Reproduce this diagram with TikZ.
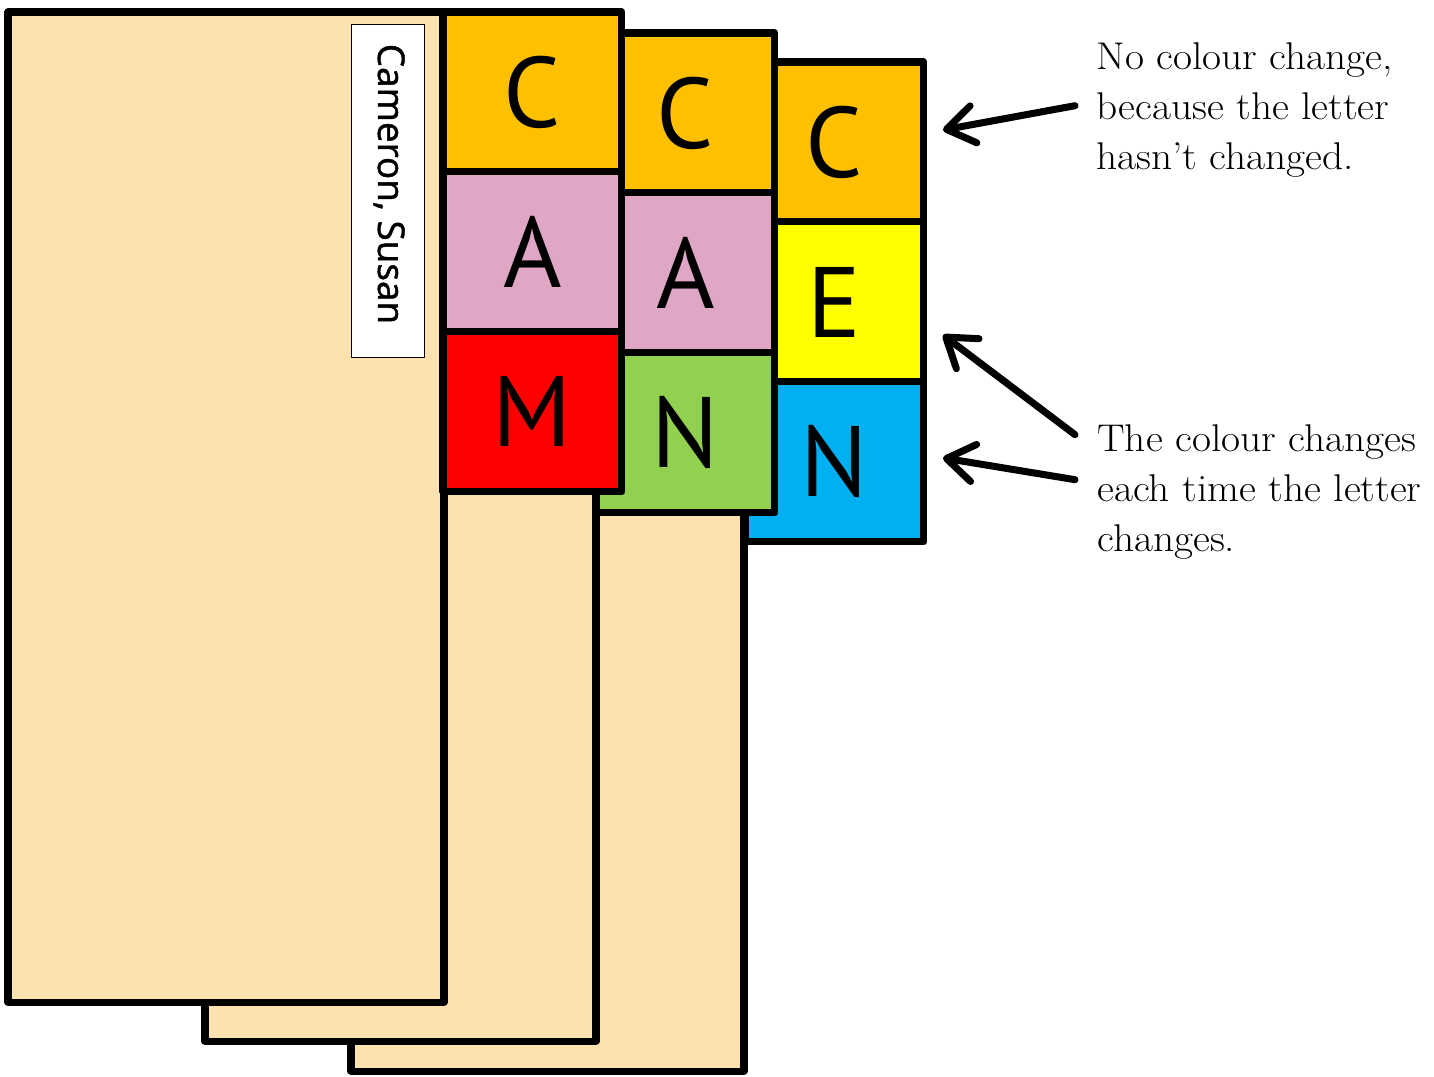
\documentclass[tikz,border=0pt]{standalone}
\usepackage{fontspec}
\usetikzlibrary{arrows.meta,calc,positioning}
\newfontfamily\tabfont{PT Sans}
\newfontfamily\labelfont{Open Sans}[FakeBold=1.2]
\newfontfamily\notefont{Latin Modern Roman}[FakeStretch=1.07]
\definecolor{FolderClr}{RGB}{253,225,175}
\definecolor{OrangeClr}{RGB}{255,192,0}
\definecolor{PinkClr}{RGB}{224,166,198}
\definecolor{RedClr}{RGB}{255,0,0}
\definecolor{GreenClr}{RGB}{146,208,80}
\definecolor{YellowClr}{RGB}{255,255,0}
\definecolor{BlueClr}{RGB}{0,176,240}

\begin{document}
\begin{tikzpicture}[x=0.02cm,y=-0.02cm,line join=round,
  folder/.style={draw=black,fill=FolderClr,line width=4pt},
  tab/.style={draw=black,line width=4pt,outer sep=0pt,inner sep=0pt,
    minimum width=3.58cm,minimum height=3.2cm,
    font=\tabfont\fontsize{57}{60}\selectfont},
  note/.style={anchor=north west,align=left,inner sep=0pt,
    font=\notefont\fontsize{22}{28.45}\selectfont},
  pointer/.style={-{Straight Barb[length=0.55cm,width=0.75cm,round]},
    line width=4pt,line cap=round}]
\useasboundingbox (0,0) rectangle (1434,1076);

\draw[folder] (351,62) rectangle (744,1071);
\node[tab,fill=OrangeClr,anchor=north west] (c3) at (745,62) {C};
\node[tab,fill=YellowClr,below=0pt of c3] (e3) {E};
\node[tab,fill=BlueClr,below=0pt of e3] (n3) {N};

\draw[folder] (205,33) rectangle (596,1041);
\node[tab,fill=OrangeClr,anchor=north west] (c2) at (596,33) {C};
\node[tab,fill=PinkClr,below=0pt of c2] (a2) {A};
\node[tab,fill=GreenClr,below=0pt of a2] (n2) {N};

\draw[folder] (8,12) rectangle (444,1002);
\node[tab,fill=OrangeClr,anchor=north west] (c1) at (443,12) {C};
\node[tab,fill=PinkClr,below=0pt of c1] (a1) {A};
\node[tab,fill=RedClr,below=0pt of a1] (m1) {M};

\node[draw,fill=white,line width=0.8pt,
  minimum width=1.46cm,minimum height=6.66cm] (namebox) at (388,191) {};
\node[rotate=-90,font=\labelfont\fontsize{21}{24}\selectfont] (name) at (389,184) {Cameron, Susan};

\node[note] (noteA) at (1096,42) {No colour change,\\because the letter\\hasn’t changed.};
\node[note] (noteB) at (1097,424) {The colour changes\\each time the letter\\changes.};

\draw[pointer] ($(noteA.west)+(-21,-4)$) -- ($(c3.east)+(19,-12)$);
\draw[pointer] ($(noteB.west)+(-22,-57)$) -- ($(e3.east)+(19,33)$);
\draw[pointer] ($(noteB.west)+(-22,-12)$) -- ($(n3.east)+(19,-4)$);

\end{tikzpicture}
\end{document}
